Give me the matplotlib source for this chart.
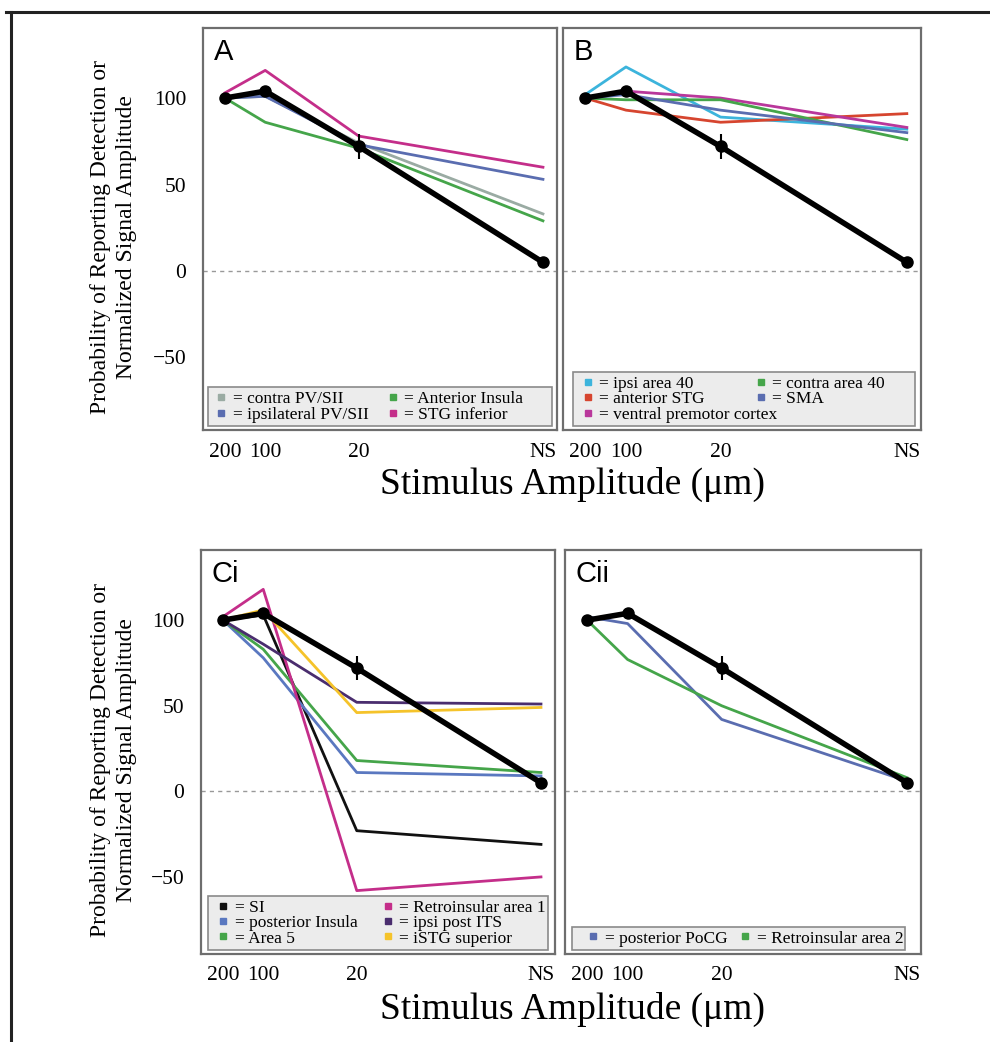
import matplotlib
matplotlib.use("Agg")
import matplotlib.pyplot as plt
from matplotlib.lines import Line2D
from matplotlib.patches import Rectangle
from matplotlib.legend import Legend

plt.rcParams['font.family'] = ['Liberation Serif', 'DejaVu Serif']

# stimulus amplitudes (um); NS = no stimulus, placed on the log axis past 20
amp_labels = ['200', '100', '20', 'NS']
amp_pos = [200, 100, 20, 0.84]

# group mean (probability of reporting detection), error only visible at 20
mean_vals = [100, 104, 72, 5]
mean_err = [0, 0, 7, 0]

# panel A
a_names = ['contra PV/SII', 'ipsilateral PV/SII', 'Anterior Insula', 'STG inferior']
a_colors = ['#9aaba3', '#5a6db0', '#45a54a', '#c42e8a']
a_contra_pv = [100, 101, 74, 33]
a_ipsi_pv = [100, 101, 73, 53]
a_ant_insula = [100, 86, 71, 29]
a_stg_inf = [103, 116, 78, 60]

# panel B
b_names = ['ipsi area 40', 'anterior STG', 'ventral premotor cortex', 'contra area 40', 'SMA']
b_colors = ['#3cb4dc', '#d6452f', '#b9379b', '#45a54a', '#5a6db0']
b_ipsi40 = [102, 118, 89, 82]
b_ant_stg = [100, 93, 86, 91]
b_vpm = [100, 104, 100, 83]
b_contra40 = [100, 99, 99, 76]
b_sma = [100, 102, 93, 80]

# panel Ci
ci_names = ['SI', 'posterior Insula', 'Area 5', 'Retroinsular area 1', 'ipsi post ITS', 'iSTG superior']
ci_colors = ['#111111', '#5a78c0', '#45a54a', '#c42e8a', '#4a2d6e', '#f5c32a']
ci_si = [100, 103, -23, -31]
ci_post_insula = [100, 78, 11, 9]
ci_area5 = [100, 83, 18, 11]
ci_retro1 = [102, 118, -58, -50]
ci_ipsi_its = [100, 86, 52, 51]
ci_istg_sup = [100, 106, 46, 49]

# panel Cii
cii_names = ['posterior PoCG', 'Retroinsular area 2']
cii_colors = ['#5a6db0', '#45a54a']
cii_pocg = [102, 98, 42, 6]
cii_retro2 = [100, 77, 50, 8]

LEG_FS = 12.5


def make_col(ax, names, colors, x, nrows):
    handles = [Line2D([], [], marker='s', color=c, ls='none', markersize=5) for c in colors]
    labels = ['= ' + n for n in names]
    while len(handles) < nrows:
        handles.append(Line2D([], [], ls='none'))
        labels.append(' ')
    leg = Legend(ax, handles, labels, loc='lower left', bbox_to_anchor=(x, 0.014),
                 fontsize=LEG_FS, frameon=False, borderpad=0.1,
                 handlelength=0.7, handletextpad=0.3, labelspacing=-0.05,
                 borderaxespad=0)
    leg.set_zorder(7)
    ax.add_artist(leg)
    return leg


def draw_panel(ax, letter, series, colors, ylim, show_y):
    ax.axhline(0, color='#999999', lw=1, ls=(0, (3, 3)), zorder=1)
    for vals, c in zip(series, colors):
        ax.plot(amp_pos, vals, color=c, lw=2, zorder=2)
    ax.errorbar(amp_pos, mean_vals, yerr=mean_err, color='black', lw=4,
                elinewidth=1.5, capsize=0, marker='o', markersize=8, zorder=5)
    ax.set_xscale('log')
    ax.set_xlim(292, 0.66)
    ax.set_ylim(*ylim)
    ax.minorticks_off()
    ax.set_xticks(amp_pos)
    ax.set_xticklabels(amp_labels, fontsize=15.5)
    ax.set_yticks([-50, 0, 50, 100])
    if show_y:
        ax.set_yticklabels(['\u221250', '0', '50', '100'], fontsize=15.5)
    else:
        ax.set_yticklabels([])
    ax.tick_params(length=0, pad=9)
    ax.tick_params(axis='y', pad=12)
    for s in ax.spines.values():
        s.set_color('#6e6e6e')
        s.set_linewidth(1.6)
    ax.text(0.03, 0.975, letter, transform=ax.transAxes, va='top', ha='left',
            fontsize=21, family='Liberation Sans')


def legend_box(fig, ax, legs, x0, x1):
    fig.canvas.draw()
    inv = ax.transAxes.inverted()
    top = max(inv.transform(l.get_window_extent().corners())[:, 1].max() for l in legs)
    rect = Rectangle((x0, 0.01), x1 - x0, top - 0.01 + 0.005, transform=ax.transAxes,
                     facecolor='#ececec', edgecolor='#8a8a8a', lw=1.2, zorder=6)
    ax.add_patch(rect)


fig = plt.figure(figsize=(9.9, 10.42), dpi=100)

ax_a = fig.add_axes([0.205, 0.5873, 0.3576, 0.3858])
ax_b = fig.add_axes([0.5687, 0.5873, 0.3616, 0.3858])
ax_ci = fig.add_axes([0.203, 0.0845, 0.3576, 0.3877])
ax_cii = fig.add_axes([0.5707, 0.0845, 0.3596, 0.3877])

draw_panel(ax_a, 'A', [a_contra_pv, a_ipsi_pv, a_ant_insula, a_stg_inf],
           a_colors, (-92, 140.5), True)
draw_panel(ax_b, 'B', [b_ipsi40, b_ant_stg, b_vpm, b_contra40, b_sma],
           b_colors, (-92, 140.5), False)
draw_panel(ax_ci, 'Ci', [ci_si, ci_post_insula, ci_area5, ci_retro1, ci_ipsi_its, ci_istg_sup],
           ci_colors, (-95, 141), True)
draw_panel(ax_cii, 'Cii', [cii_pocg, cii_retro2],
           cii_colors, (-95, 141), False)

legs_a = [make_col(ax_a, a_names[:2], a_colors[:2], 0.03, 2),
          make_col(ax_a, a_names[2:], a_colors[2:], 0.515, 2)]
legs_b = [make_col(ax_b, b_names[:3], b_colors[:3], 0.048, 3),
          make_col(ax_b, b_names[3:], b_colors[3:], 0.53, 3)]
legs_ci = [make_col(ax_ci, ci_names[:3], ci_colors[:3], 0.041, 3),
           make_col(ax_ci, ci_names[3:], ci_colors[3:], 0.505, 3)]
legs_cii = [make_col(ax_cii, cii_names[:1], cii_colors[:1], 0.058, 1),
            make_col(ax_cii, cii_names[1:], cii_colors[1:], 0.485, 1)]

ylab = 'Probability of Reporting Detection or\nNormalized Signal Amplitude'
fig.text(0.1146, 1 - 237 / 1042, ylab, rotation=90, ha='center', va='center',
         fontsize=17, linespacing=1.3)
fig.text(0.1146, 1 - 760 / 1042, ylab, rotation=90, ha='center', va='center',
         fontsize=17, linespacing=1.3)
fig.text(0.578, 1 - 484 / 1042, 'Stimulus Amplitude (\u03bcm)', ha='center', va='center',
         fontsize=27)
fig.text(0.578, 1 - 1009 / 1042, 'Stimulus Amplitude (\u03bcm)', ha='center', va='center',
         fontsize=27)

# outer frame (top and left edges)
fig.add_artist(Line2D([6 / 990, 1], [1 - 12 / 1042, 1 - 12 / 1042],
                      transform=fig.transFigure, color='#222222', lw=2.2))
fig.add_artist(Line2D([11 / 990, 11 / 990], [1 - 12 / 1042, 0],
                      transform=fig.transFigure, color='#222222', lw=2.2))

legend_box(fig, ax_a, legs_a, 0.014, 0.986)
legend_box(fig, ax_b, legs_b, 0.028, 0.983)
legend_box(fig, ax_ci, legs_ci, 0.02, 0.98)
legend_box(fig, ax_cii, legs_cii, 0.02, 0.955)

fig.savefig('out.png', dpi=100)
